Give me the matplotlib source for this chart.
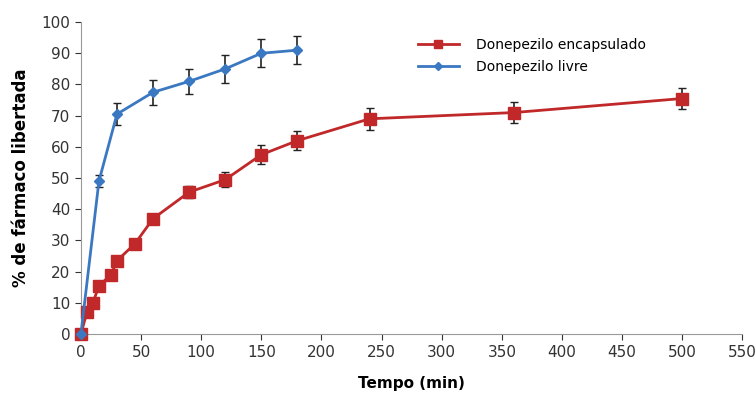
import matplotlib.pyplot as plt
from matplotlib.lines import Line2D
import numpy as np

# Dados
t_enc = [0, 5, 10, 15, 25, 30, 45, 60, 90, 120, 150, 180, 240, 360, 500]
y_enc = [0, 7, 10, 15.5, 19, 23.5, 29, 37, 45.5, 49.5, 57.5, 62, 69, 71, 75.5]
e_enc = [0, 0.8, 1, 1, 1, 1, 1, 1.5, 2, 2.5, 3, 3, 3.5, 3.5, 3.5]

t_liv = [0, 15, 30, 60, 90, 120, 150, 180]
y_liv = [0, 49, 70.5, 77.5, 81, 85, 90, 91]
e_liv = [0, 2, 3.5, 4, 4, 4.5, 4.5, 4.5]

red = '#c0282a'
blue = '#3a78c2'

fig = plt.figure(figsize=(7.56, 3.94), dpi=100)
ax = fig.add_axes([0.107, 0.152, 0.875, 0.792])

ax.errorbar(t_enc, y_enc, yerr=e_enc, color=red, marker='s', markersize=9,
            lw=2, ecolor='#222222', elinewidth=1.2, capsize=3, clip_on=False, zorder=3)
ax.errorbar(t_liv, y_liv, yerr=e_liv, color=blue, marker='D', markersize=5,
            lw=2, ecolor='#222222', elinewidth=1.2, capsize=3, clip_on=False, zorder=4)

ax.set_xlim(0, 550)
ax.set_ylim(0, 100)
ax.set_xticks(np.arange(0, 551, 50))
ax.set_yticks(np.arange(0, 101, 10))
ax.tick_params(labelsize=11, colors='#333333', length=4)
for s in ['top', 'right']:
    ax.spines[s].set_visible(False)
for s in ['left', 'bottom']:
    ax.spines[s].set_color('#999999')

ax.set_xlabel('Tempo (min)', fontsize=11, fontweight='bold', labelpad=12)
ax.set_ylabel('% de fármaco libertada', fontsize=12, fontweight='bold', labelpad=8)

handles = [Line2D([], [], color=red, marker='s', markersize=6, lw=2),
           Line2D([], [], color=blue, marker='D', markersize=4, lw=2)]
ax.legend(handles, ['Donepezilo encapsulado', 'Donepezilo livre'],
          loc='upper left', bbox_to_anchor=(0.49, 0.99), frameon=False, fontsize=10,
          handlelength=3, labelspacing=0.6, handletextpad=1.2)

plt.savefig('out.png', dpi=100)
